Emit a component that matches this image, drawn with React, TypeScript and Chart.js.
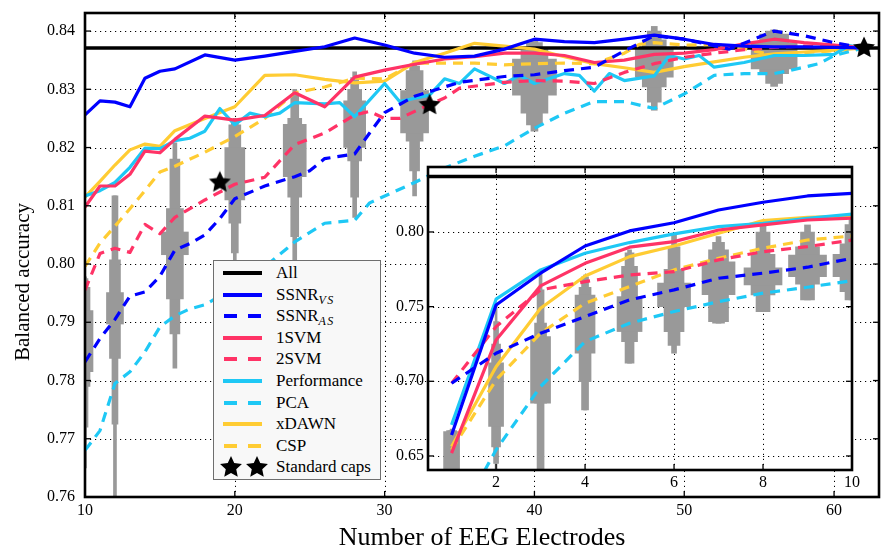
import React, { useEffect, useRef } from "react";
import { Chart, registerables } from "chart.js";
Chart.register(...registerables);

type Pt = [number, number];
type Rng = [number, number];

// ---------------- DATA ----------------
const ALL_ACC = 0.8371;

const MAIN_X_MIN = 10;
const MAIN_X_MAX = 63;
const MAIN_Y_MIN = 0.76;
const MAIN_Y_MAX = 0.8431;
const MAIN_X_TICKS = [10, 20, 30, 40, 50, 60];
const MAIN_Y_TICKS = [0.76, 0.77, 0.78, 0.79, 0.8, 0.81, 0.82, 0.83, 0.84];

const SSNR_VS: Pt[] = [[10,0.8256],[11,0.8280],[12,0.8278],[13,0.8270],[14,0.8319],[15,0.8331],[16,0.8335],[18,0.8359],[20,0.8350],[22,0.8357],[24,0.8365],[26,0.8373],[28,0.8388],[30,0.8376],[32,0.8362],[34,0.8355],[36,0.8357],[38,0.8369],[40,0.8386],[42,0.8382],[44,0.8380],[46,0.8386],[48,0.8393],[50,0.8386],[52,0.8377],[54,0.8374],[56,0.8373],[58,0.8373],[60,0.8372],[62,0.8371]];
const SSNR_AS: Pt[] = [[10,0.7832],[11,0.7872],[12,0.7905],[13,0.7945],[14,0.7952],[15,0.7979],[16,0.8024],[17,0.8035],[18,0.8050],[19,0.8078],[20,0.8112],[22,0.8134],[24,0.8150],[25,0.8160],[26,0.8181],[28,0.8189],[29,0.8225],[30,0.8260],[32,0.8288],[34,0.8304],[35,0.8312],[38,0.8322],[40,0.8325],[42,0.8332],[44,0.8338],[46,0.8366],[48,0.8392],[50,0.8386],[53,0.8369],[56,0.8400],[58,0.8392],[60,0.8380],[62,0.8371]];
const SVM1: Pt[] = [[10,0.8098],[11,0.8134],[12,0.8134],[13,0.8154],[14,0.8194],[15,0.8191],[16,0.8214],[18,0.8254],[20,0.8247],[22,0.8255],[24,0.8294],[26,0.8270],[28,0.8321],[30,0.8333],[32,0.8343],[34,0.8352],[36,0.8356],[38,0.8362],[40,0.8362],[42,0.8358],[44,0.8346],[46,0.8350],[48,0.8360],[50,0.8362],[52,0.8368],[54,0.8378],[56,0.8386],[58,0.8380],[60,0.8376],[62,0.8371]];
const SVM2: Pt[] = [[10,0.7955],[11,0.8018],[12,0.8027],[13,0.8020],[14,0.8068],[15,0.8052],[16,0.8080],[18,0.8110],[20,0.8137],[22,0.8149],[24,0.8205],[26,0.8225],[28,0.8256],[29,0.8262],[30,0.8250],[31,0.8250],[33,0.8274],[34,0.8285],[35,0.8302],[38,0.8312],[40,0.8315],[42,0.8314],[44,0.8310],[46,0.8329],[48,0.8344],[50,0.8355],[52,0.8362],[54,0.8368],[56,0.8372],[58,0.8374],[60,0.8373],[62,0.8371]];
const PERFORMANCE: Pt[] = [[10,0.8117],[11,0.8126],[12,0.8140],[13,0.8166],[14,0.8199],[15,0.8198],[16,0.8212],[17,0.8216],[18,0.8228],[19,0.8267],[20,0.8239],[21,0.8259],[22,0.8253],[23,0.8259],[24,0.8277],[26,0.8275],[27,0.8277],[28,0.8253],[30,0.8310],[31,0.8279],[33,0.8290],[34,0.8318],[35,0.8310],[36,0.8335],[38,0.8310],[39,0.8324],[40,0.8310],[42,0.8327],[43,0.8324],[44,0.8297],[45,0.8327],[46,0.8315],[48,0.8323],[49,0.8358],[50,0.8352],[51,0.8358],[52,0.8338],[54,0.8346],[56,0.8358],[58,0.8358],[60,0.8360],[61,0.8375],[62,0.8371]];
const PCA: Pt[] = [[10,0.7680],[11,0.7714],[12,0.7795],[13,0.7815],[14,0.7849],[15,0.7892],[16,0.7911],[17,0.7923],[18,0.7930],[20,0.7960],[22,0.7995],[24,0.8038],[26,0.8070],[28,0.8075],[29,0.8105],[32,0.8140],[34,0.8165],[36,0.8185],[38,0.8203],[40,0.8233],[42,0.8259],[44,0.8279],[46,0.8279],[48,0.8267],[50,0.8292],[52,0.8324],[54,0.8327],[56,0.8327],[57,0.8332],[59,0.8344],[60,0.8358],[62,0.8371]];
const XDAWN: Pt[] = [[10,0.8115],[11,0.8142],[12,0.8170],[13,0.8196],[14,0.8206],[15,0.8202],[16,0.8229],[18,0.8250],[20,0.8270],[22,0.8324],[24,0.8325],[26,0.8317],[28,0.8311],[30,0.8314],[32,0.8346],[34,0.8362],[36,0.8379],[38,0.8374],[40,0.8369],[42,0.8356],[44,0.8344],[46,0.8337],[48,0.8329],[50,0.8339],[52,0.8347],[54,0.8355],[56,0.8361],[58,0.8364],[60,0.8367],[62,0.8371]];
const CSP: Pt[] = [[10,0.7996],[11,0.8036],[12,0.8065],[13,0.8095],[14,0.8126],[15,0.8158],[16,0.8168],[18,0.8192],[20,0.8219],[22,0.8250],[24,0.8294],[26,0.8304],[28,0.8319],[30,0.8318],[32,0.8345],[34,0.8345],[36,0.8345],[38,0.8342],[40,0.8344],[42,0.8345],[44,0.8344],[46,0.8362],[47,0.8377],[48,0.8380],[50,0.8376],[52,0.8377],[54,0.8370],[56,0.8358],[58,0.8363],[60,0.8366],[62,0.8371]];
const STANDARD_CAPS: Pt[] = [[19, 0.8140], [33, 0.8273], [62, 0.8371]];

// distribution boxes (letter-value steps, widest step first, outermost whisker last)
const MAIN_BOX_X = [10, 12, 16, 20, 24, 28, 32, 40, 48, 56];
const MAIN_BOX_LEVELS: Rng[][] = [
  [[0.7815,0.7920],[0.7790,0.7960],[0.7720,0.7975],[0.7650,0.7978]],
  [[0.7897,0.7951],[0.7838,0.8007],[0.7725,0.8117],[0.7550,0.8117]],
  [[0.8016,0.8055],[0.7940,0.8095],[0.7880,0.8180],[0.7821,0.8208]],
  [[0.8110,0.8200],[0.8070,0.8239],[0.8019,0.8245],[0.8005,0.8250]],
  [[0.8150,0.8240],[0.8115,0.8250],[0.8047,0.8290],[0.8005,0.8300]],
  [[0.8200,0.8280],[0.8177,0.8300],[0.8115,0.8320],[0.8080,0.8330]],
  [[0.8225,0.8298],[0.8211,0.8332],[0.8160,0.8340],[0.8117,0.8349]],
  [[0.8290,0.8352],[0.8259,0.8369],[0.8239,0.8380],[0.8228,0.8386]],
  [[0.8321,0.8369],[0.8304,0.8385],[0.8278,0.8400],[0.8264,0.8408]],
  [[0.8335,0.8380],[0.8327,0.8395],[0.8310,0.8400],[0.8305,0.8402]],
];

// inset: first 10 electrodes
const INSET_X_MIN = 0.47;
const INSET_X_MAX = 10;
const INSET_Y_MIN = 0.6406;
const INSET_Y_MAX = 0.8435;
const INSET_X_TICKS = [2, 4, 6, 8, 10];
const INSET_Y_TICKS = [0.65, 0.7, 0.75, 0.8];
const INSET_X = [1, 2, 3, 4, 5, 6, 7, 8, 9, 10];
const IN_SSNR_VS = [0.6641,0.7511,0.7724,0.7906,0.8007,0.8062,0.8147,0.8199,0.8241,0.8259];
const IN_SSNR_AS = [0.6987,0.7188,0.7322,0.7433,0.7545,0.7612,0.7690,0.7724,0.7764,0.7824];
const IN_SVM1 = [0.6519,0.7277,0.7639,0.7790,0.7898,0.7935,0.8013,0.8047,0.8080,0.8092];
const IN_SVM2 = [0.6987,0.7366,0.7612,0.7667,0.7712,0.7734,0.7813,0.7868,0.7902,0.7946];
const IN_PERFORMANCE = [0.6708,0.7550,0.7746,0.7857,0.7929,0.7987,0.8036,0.8058,0.8092,0.8120];
const IN_PCA = [0.6000,0.6541,0.6965,0.7266,0.7389,0.7467,0.7533,0.7590,0.7630,0.7674];
const IN_XDAWN = [0.6563,0.7098,0.7489,0.7705,0.7835,0.7906,0.7991,0.8076,0.8098,0.8107];
const IN_CSP = [0.6541,0.7009,0.7322,0.7523,0.7634,0.7746,0.7824,0.7891,0.7946,0.7973];
const INSET_BOX_X = [1, 2, 3, 4, 5, 6, 7, 8, 9, 10];
const INSET_BOX_LEVELS: Rng[][] = [
  [[0.6000,0.6663],[0.6000,0.6670],[0.5900,0.6670],[0.5800,0.6680]],
  [[0.6697,0.7123],[0.6560,0.7250],[0.6450,0.7400],[0.6406,0.7525]],
  [[0.6853,0.7299],[0.6853,0.7390],[0.6406,0.7612],[0.6300,0.7724]],
  [[0.7188,0.7578],[0.6998,0.7630],[0.6808,0.7700],[0.6808,0.7712]],
  [[0.7333,0.7567],[0.7266,0.7770],[0.7121,0.7860],[0.7121,0.7880]],
  [[0.7500,0.7657],[0.7333,0.7750],[0.7240,0.7900],[0.7188,0.7991]],
  [[0.7580,0.7800],[0.7400,0.7880],[0.7389,0.7930],[0.7389,0.7969]],
  [[0.7645,0.7759],[0.7578,0.7850],[0.7467,0.8000],[0.7467,0.8047]],
  [[0.7701,0.7846],[0.7650,0.7900],[0.7545,0.8000],[0.7545,0.8047]],
  [[0.7700,0.7850],[0.7600,0.7920],[0.7545,0.8050],[0.7545,0.8120]],
];

// ---------------- STYLE ----------------
const BLUE = "#0000FF";
const RED = "#FF3366";
const CYAN = "#1EC8F5";
const YELLOW = "#FFCC33";
const GRAY = "#999999";
const FONT = "'Liberation Serif', 'DejaVu Serif', serif";
const DASH = [10, 7];
const MAIN_BOX_WIDTH_PX = [16, 17, 27, 20, 23, 22, 28, 44, 38, 46];
const INSET_BOX_WIDTH_PX = [16, 15, 20, 20, 25, 33, 33, 38, 38, 38];
const LEVEL_FRACTION = [1, 0.62, 0.36, 0.16];

const SERIES = [
  { label: "SSNR_VS", main: SSNR_VS, inset: IN_SSNR_VS, color: BLUE, dashed: false },
  { label: "SSNR_AS", main: SSNR_AS, inset: IN_SSNR_AS, color: BLUE, dashed: true },
  { label: "1SVM", main: SVM1, inset: IN_SVM1, color: RED, dashed: false },
  { label: "2SVM", main: SVM2, inset: IN_SVM2, color: RED, dashed: true },
  { label: "Performance", main: PERFORMANCE, inset: IN_PERFORMANCE, color: CYAN, dashed: false },
  { label: "PCA", main: PCA, inset: IN_PCA, color: CYAN, dashed: true },
  { label: "xDAWN", main: XDAWN, inset: IN_XDAWN, color: YELLOW, dashed: false },
  { label: "CSP", main: CSP, inset: IN_CSP, color: YELLOW, dashed: true },
];

function makeStar(size: number): HTMLCanvasElement {
  const c = document.createElement("canvas");
  c.width = size;
  c.height = size;
  const ctx = c.getContext("2d")!;
  const cx = size / 2, cy = size / 2, R = size / 2 - 0.5, r = R * 0.48;
  ctx.fillStyle = "#000";
  ctx.beginPath();
  for (let i = 0; i < 10; i++) {
    const a = -Math.PI / 2 + (i * Math.PI) / 5;
    const rad = i % 2 === 0 ? R : r;
    const px = cx + rad * Math.cos(a), py = cy + rad * Math.sin(a);
    if (i === 0) ctx.moveTo(px, py); else ctx.lineTo(px, py);
  }
  ctx.closePath();
  ctx.fill();
  return c;
}

function lineDs(label: string, pts: Pt[], color: string, dashed: boolean, order: number, width = 3.2) {
  return {
    type: "line",
    label,
    data: pts.map(([x, y]) => ({ x, y })),
    borderColor: color,
    backgroundColor: color,
    borderWidth: width,
    borderDash: dashed ? DASH : [],
    borderCapStyle: "butt",
    borderJoinStyle: "round",
    pointRadius: 0,
    pointHoverRadius: 0,
    tension: 0,
    fill: false,
    order,
  };
}

function boxDatasets(xs: number[], levels: Rng[][], widths: number[]) {
  const out: any[] = [];
  xs.forEach((x, i) => {
    levels[i].forEach((rng, l) => {
      out.push({
        type: "bar",
        label: "dist",
        data: [{ x, y: rng }],
        backgroundColor: GRAY,
        borderWidth: 0,
        barThickness: Math.max(2, Math.round(widths[i] * LEVEL_FRACTION[l])),
        grouped: false,
        order: 40,
      });
    });
  });
  return out;
}

const framePlugin = {
  id: "frame",
  beforeDatasetsDraw(chart: any, _args: any, opts: any) {
    const { ctx, chartArea: a } = chart;
    const sx = chart.scales.x, sy = chart.scales.y;
    ctx.save();
    if (opts.background) {
      ctx.fillStyle = opts.background;
      ctx.fillRect(a.left, a.top, a.right - a.left, a.bottom - a.top);
    }
    ctx.strokeStyle = "#000";
    ctx.lineWidth = 1;
    ctx.setLineDash([1.2, 3.8]);
    for (const v of opts.xGrid) {
      const x = Math.round(sx.getPixelForValue(v)) + 0.5;
      ctx.beginPath(); ctx.moveTo(x, a.bottom); ctx.lineTo(x, a.top); ctx.stroke();
    }
    for (const v of opts.yGrid) {
      const y = Math.round(sy.getPixelForValue(v)) + 0.5;
      ctx.beginPath(); ctx.moveTo(a.left, y); ctx.lineTo(a.right, y); ctx.stroke();
    }
    ctx.restore();
  },
  afterDatasetsDraw(chart: any, _args: any, opts: any) {
    const { ctx, chartArea: a } = chart;
    const sx = chart.scales.x, sy = chart.scales.y;
    const t = opts.tickLen;
    ctx.save();
    ctx.setLineDash([]);
    ctx.strokeStyle = "#000";
    ctx.lineWidth = 1.3;
    for (const v of opts.xGrid) {
      const x = sx.getPixelForValue(v);
      ctx.beginPath(); ctx.moveTo(x, a.bottom); ctx.lineTo(x, a.bottom - t); ctx.stroke();
      ctx.beginPath(); ctx.moveTo(x, a.top); ctx.lineTo(x, a.top + t); ctx.stroke();
    }
    for (const v of opts.yGrid) {
      const y = sy.getPixelForValue(v);
      ctx.beginPath(); ctx.moveTo(a.left, y); ctx.lineTo(a.left + t, y); ctx.stroke();
      ctx.beginPath(); ctx.moveTo(a.right, y); ctx.lineTo(a.right - t, y); ctx.stroke();
    }
    ctx.lineWidth = 2.6;
    ctx.strokeRect(a.left, a.top, a.right - a.left, a.bottom - a.top);
    ctx.restore();
  },
};

function axisCommon(ticks: number[], isY: boolean, size: number, padding: number) {
  return {
    type: "linear",
    offset: false,
    grid: { display: false, drawTicks: false },
    border: { display: false },
    ticks: {
      autoSkip: false,
      maxRotation: 0,
      padding,
      color: "#000",
      font: { family: FONT, size },
      callback: (v: any) => (isY ? Number(v).toFixed(2) : String(v)),
    },
    afterBuildTicks: (ax: any) => {
      ax.ticks = ticks.map((v) => ({ value: v }));
    },
  };
}

const LEGEND_ITEMS = [
  { label: "All", sub: "", color: "#000", dashed: false },
  { label: "SSNR", sub: "VS", color: BLUE, dashed: false },
  { label: "SSNR", sub: "AS", color: BLUE, dashed: true },
  { label: "1SVM", sub: "", color: RED, dashed: false },
  { label: "2SVM", sub: "", color: RED, dashed: true },
  { label: "Performance", sub: "", color: CYAN, dashed: false },
  { label: "PCA", sub: "", color: CYAN, dashed: true },
  { label: "xDAWN", sub: "", color: YELLOW, dashed: false },
  { label: "CSP", sub: "", color: YELLOW, dashed: true },
];

function StarIcon({ left }: { left: number }) {
  const pts: string[] = [];
  for (let i = 0; i < 10; i++) {
    const a = -Math.PI / 2 + (i * Math.PI) / 5;
    const rad = i % 2 === 0 ? 11.5 : 5.5;
    pts.push(`${12 + rad * Math.cos(a)},${12.5 + rad * Math.sin(a)}`);
  }
  return (
    <svg width={24} height={24} style={{ position: "absolute", left, top: -2 }}>
      <polygon points={pts.join(" ")} fill="#000" />
    </svg>
  );
}

export default function App() {
  const mainRef = useRef<HTMLCanvasElement>(null);
  const insetRef = useRef<HTMLCanvasElement>(null);

  useEffect(() => {
    const star = makeStar(24);

    const mainDatasets: any[] = [
      ...SERIES.map((s, i) => lineDs(s.label, s.main, s.color, s.dashed, 10 + i)),
      lineDs("All", [[MAIN_X_MIN, ALL_ACC], [MAIN_X_MAX, ALL_ACC]], "#000", false, 30, 3.5),
      ...boxDatasets(MAIN_BOX_X, MAIN_BOX_LEVELS, MAIN_BOX_WIDTH_PX),
      {
        type: "line",
        label: "Standard caps",
        data: STANDARD_CAPS.map(([x, y]) => ({ x, y })),
        showLine: false,
        pointStyle: star,
        pointRadius: 12,
        pointHoverRadius: 12,
        order: 0,
      },
    ];

    const mainChart = new Chart(mainRef.current!, {
      type: "line",
      data: { datasets: mainDatasets },
      plugins: [framePlugin],
      options: {
        responsive: false,
        animation: false,
        devicePixelRatio: 1,
        events: [],
        layout: { padding: { left: 0, top: 7, right: 4, bottom: 0 } },
        plugins: {
          legend: { display: false },
          tooltip: { enabled: false },
          frame: { xGrid: MAIN_X_TICKS, yGrid: MAIN_Y_TICKS, tickLen: 6 },
        } as any,
        scales: {
          x: {
            ...axisCommon(MAIN_X_TICKS, false, 16, 4),
            min: MAIN_X_MIN,
            max: MAIN_X_MAX,
            title: {
              display: true,
              text: "Number of EEG Electrodes",
              color: "#000",
              font: { family: FONT, size: 26, lineHeight: 0.8 },
              padding: { top: 0, bottom: 0 },
            },
            afterFit: (ax: any) => {
              ax.height = 52;
              ax.paddingLeft = 0;
              ax.paddingRight = 0;
            },
          },
          y: {
            ...axisCommon(MAIN_Y_TICKS, true, 16, 10),
            min: MAIN_Y_MIN,
            max: MAIN_Y_MAX,
            afterFit: (ax: any) => {
              ax.width = 85;
              ax.paddingTop = 0;
              ax.paddingBottom = 0;
            },
          },
        } as any,
      } as any,
    } as any);

    const insetDatasets: any[] = [
      ...SERIES.map((s, i) =>
        lineDs(s.label, INSET_X.map((x, k) => [x, s.inset[k]] as Pt), s.color, s.dashed, 10 + i)
      ),
      lineDs("All", [[INSET_X_MIN, ALL_ACC], [INSET_X_MAX, ALL_ACC]], "#000", false, 30, 3.5),
      ...boxDatasets(INSET_BOX_X, INSET_BOX_LEVELS, INSET_BOX_WIDTH_PX),
    ];

    const insetChart = new Chart(insetRef.current!, {
      type: "line",
      data: { datasets: insetDatasets },
      plugins: [framePlugin],
      options: {
        responsive: false,
        animation: false,
        devicePixelRatio: 1,
        events: [],
        layout: { padding: { left: 0, top: 17, right: 8, bottom: 0 } },
        plugins: {
          legend: { display: false },
          tooltip: { enabled: false },
          frame: { xGrid: INSET_X_TICKS, yGrid: INSET_Y_TICKS, tickLen: 6, background: "#fff" },
        } as any,
        scales: {
          x: {
            ...axisCommon(INSET_X_TICKS, false, 16, 3),
            min: INSET_X_MIN,
            max: INSET_X_MAX,
            afterFit: (ax: any) => {
              ax.height = 30;
              ax.paddingLeft = 0;
              ax.paddingRight = 0;
            },
          },
          y: {
            ...axisCommon(INSET_Y_TICKS, true, 16, 4),
            min: INSET_Y_MIN,
            max: INSET_Y_MAX,
            afterFit: (ax: any) => {
              ax.width = 48;
              ax.paddingTop = 0;
              ax.paddingBottom = 0;
            },
          },
        } as any,
      } as any,
    } as any);

    return () => {
      mainChart.destroy();
      insetChart.destroy();
    };
  }, []);

  const rowTop = (i: number) => 2 + i * 21.6;

  return (
    <div
      style={{
        position: "fixed",
        left: 0,
        top: 0,
        width: 886,
        height: 549,
        overflow: "hidden",
        background: "#fff",
      }}
    >
      <canvas ref={mainRef} width={892} height={549} style={{ position: "absolute", left: 0, top: 0 }} />
      <canvas ref={insetRef} width={480} height={350} style={{ position: "absolute", left: 380, top: 150 }} />
      <div
        style={{
          position: "absolute",
          left: 22 - 110,
          top: 282 - 13,
          width: 220,
          height: 26,
          transformOrigin: "50% 50%",
          transform: "rotate(-90deg)",
          fontFamily: FONT,
          fontSize: 21,
          color: "#000",
          whiteSpace: "nowrap",
          lineHeight: "26px",
          textAlign: "center",
        }}
      >
        Balanced accuracy
      </div>
      <div
        style={{
          position: "absolute",
          left: 213,
          top: 260,
          width: 166,
          height: 218,
          background: "#f8f8f8",
          border: "1px solid #6e6e6e",
          fontFamily: FONT,
          fontSize: 17,
          color: "#000",
        }}
      >
        {LEGEND_ITEMS.map((it, i) => (
          <div key={i} style={{ position: "absolute", left: 0, top: rowTop(i), height: 20, width: 166 }}>
            {it.dashed ? (
              <>
                <div style={{ position: "absolute", left: 10, top: 8, width: 13, height: 4, background: it.color }} />
                <div style={{ position: "absolute", left: 34, top: 8, width: 13, height: 4, background: it.color }} />
              </>
            ) : (
              <div style={{ position: "absolute", left: 9, top: 8, width: 39, height: 4, background: it.color }} />
            )}
            <div style={{ position: "absolute", left: 62, top: 0, lineHeight: "20px", whiteSpace: "nowrap" }}>
              {it.label}
              {it.sub ? (
                <sub style={{ fontStyle: "italic", fontSize: 12, letterSpacing: 1.5, verticalAlign: -4 }}>{it.sub}</sub>
              ) : null}
            </div>
          </div>
        ))}
        <div style={{ position: "absolute", left: 0, top: rowTop(9), height: 20, width: 166 }}>
          <StarIcon left={5} />
          <StarIcon left={31} />
          <div style={{ position: "absolute", left: 62, top: 0, lineHeight: "20px", whiteSpace: "nowrap" }}>
            Standard caps
          </div>
        </div>
      </div>
    </div>
  );
}
